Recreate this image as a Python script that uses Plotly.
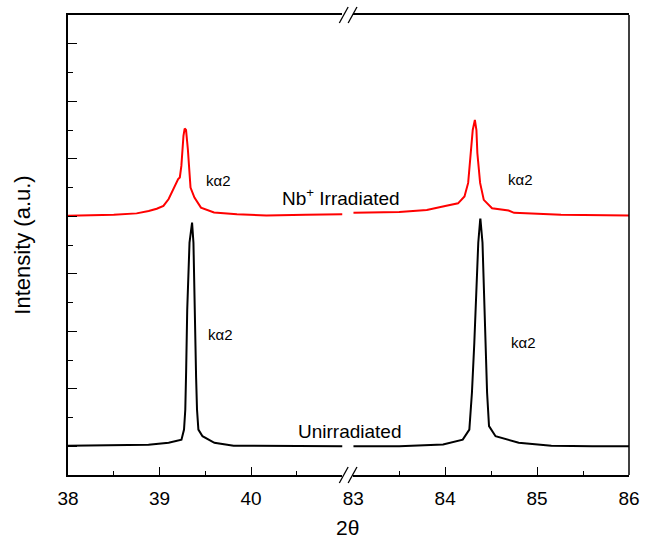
import plotly.graph_objects as go

# ---- data ----
black_left_x = [38.0, 38.5, 38.88, 39.10, 39.24, 39.268, 39.282, 39.291, 39.303, 39.328, 39.35, 39.356,
                39.371, 39.382, 39.40, 39.41, 39.425, 39.47, 39.60, 39.81, 40.5, 41.0]
black_left_y = [0.02, 0.03, 0.05, 0.12, 0.23, 0.58, 1.28, 2.6, 4.75, 7.08, 7.78, 7.78,
                7.08, 4.75, 2.4, 1.28, 0.58, 0.35, 0.12, 0.02, 0.0, 0.0]

black_right_x = [83.0, 83.5, 83.977, 84.191, 84.263, 84.291, 84.317, 84.36, 84.381, 84.384,
                 84.406, 84.435, 84.456, 84.477, 84.548, 84.80, 85.155, 85.6, 86.0]
black_right_y = [0.0, 0.0, 0.06, 0.23, 0.58, 1.86, 3.6, 7.08, 7.89, 7.89,
                 7.08, 3.6, 1.86, 0.7, 0.35, 0.12, 0.02, 0.0, 0.0]

red_left_x = [38.0, 38.5, 38.75, 38.882, 38.97, 39.043, 39.10, 39.15, 39.204, 39.222, 39.239, 39.262, 39.275,
              39.29, 39.30, 39.31, 39.339, 39.382, 39.453, 39.596, 39.846, 40.168, 40.6, 41.0]
red_left_y = [8.02, 8.05, 8.1, 8.18, 8.26, 8.36, 8.6, 8.94, 9.29, 9.35, 9.75, 10.8, 11.05,
              11.0, 10.7, 10.33, 9.0, 8.65, 8.3, 8.13, 8.07, 8.03, 8.05, 8.07]

red_right_x = [83.0, 83.5, 83.8, 83.9, 84.0, 84.14, 84.21, 84.25, 84.28, 84.30, 84.323, 84.34,
               84.35, 84.38, 84.42, 84.51, 84.69, 84.75, 85.26, 86.0]
red_right_y = [8.12, 8.15, 8.22, 8.3, 8.36, 8.45, 8.69, 9.16, 10.3, 11.0, 11.35, 11.0,
               10.2, 9.16, 8.57, 8.28, 8.2, 8.12, 8.05, 8.03]

left_ticks = [38, 39, 40]
right_ticks = [83, 84, 85, 86]
left_minor = [38.5, 39.5, 40.5]
right_minor = [83.5, 84.5, 85.5]
y_major = [0, 2, 4, 6, 8, 10, 12, 14]
y_minor = [1, 3, 5, 7, 9, 11, 13]

FONT = "Liberation Sans, Arial, sans-serif"

fig = go.Figure()
fig.add_trace(go.Scatter(x=black_left_x, y=black_left_y, mode="lines",
                         line=dict(color="black", width=2), xaxis="x", yaxis="y"))
fig.add_trace(go.Scatter(x=black_right_x, y=black_right_y, mode="lines",
                         line=dict(color="black", width=2), xaxis="x2", yaxis="y"))
fig.add_trace(go.Scatter(x=red_left_x, y=red_left_y, mode="lines",
                         line=dict(color="#ff0000", width=2), xaxis="x", yaxis="y"))
fig.add_trace(go.Scatter(x=red_right_x, y=red_right_y, mode="lines",
                         line=dict(color="#ff0000", width=2), xaxis="x2", yaxis="y"))

axis_common = dict(showgrid=False, zeroline=False, showline=True, linecolor="black", linewidth=1.5,
                   mirror=True, ticks="inside", ticklen=8, tickwidth=1.2, tickcolor="black",
                   tickfont=dict(size=19, color="black", family=FONT), ticklabelstandoff=5)

fig.update_layout(
    width=651, height=541, autosize=False,
    margin=dict(l=68, r=11, t=15, b=66),
    paper_bgcolor="white", plot_bgcolor="white",
    showlegend=False,
    font=dict(family=FONT, color="black"),
    xaxis=dict(domain=[0, 0.4893], range=[38, 41], tickvals=left_ticks, anchor="y",
               minor=dict(tickvals=left_minor, ticklen=4, ticks="inside", tickcolor="black", tickwidth=1.2),
               **axis_common),
    xaxis2=dict(domain=[0.5085, 1], range=[83, 86], tickvals=right_ticks, anchor="y",
                minor=dict(tickvals=right_minor, ticklen=4, ticks="inside", tickcolor="black", tickwidth=1.2),
                **axis_common),
    yaxis=dict(range=[-1, 15], tickvals=y_major, showticklabels=False, showgrid=False, zeroline=False,
               showline=True, linecolor="black", linewidth=1.5, mirror=False, anchor="x",
               ticks="inside", ticklen=9, tickwidth=1.2, tickcolor="black",
               minor=dict(tickvals=y_minor, ticklen=5, ticks="inside", tickcolor="black", tickwidth=1.2),
               title=dict(text="Intensity (a.u.)", font=dict(size=22, family=FONT, color="black"),
                          standoff=30)),
)

W = 572.3
H = 459.5
def px(x):
    return (x - 67.7) / W
def py(y):
    return (474.5 - y) / H

shapes = [dict(type="line", xref="paper", yref="paper", x0=1, x1=1, y0=0, y1=1,
               line=dict(color="black", width=1.5))]
for yc in (15.0, 474.5):
    shapes.append(dict(type="line", xref="paper", yref="paper", x0=px(349), x1=px(358), y0=py(yc), y1=py(yc),
                       line=dict(color="white", width=3)))
    for xc in (349.0, 358.0):
        shapes.append(dict(type="line", xref="paper", yref="paper",
                           x0=px(xc - 4.5), y0=py(yc + 8), x1=px(xc + 4.5), y1=py(yc - 8),
                           line=dict(color="black", width=1.3)))
fig.update_layout(shapes=shapes)

ann_font = dict(size=15, family=FONT, color="black")
annotations = [
    dict(x=39.65, y=9.23, xref="x", yref="y", text="kα2", showarrow=False, font=ann_font),
    dict(x=84.82, y=9.29, xref="x2", yref="y", text="kα2", showarrow=False, font=ann_font),
    dict(x=39.67, y=3.89, xref="x", yref="y", text="kα2", showarrow=False, font=ann_font),
    dict(x=84.85, y=3.6, xref="x2", yref="y", text="kα2", showarrow=False, font=ann_font),
    dict(x=px(346), y=py(197), xref="paper", yref="paper", text="Nb<sup>+</sup> Irradiated",
         showarrow=False, font=dict(size=19, family=FONT, color="black"), yanchor="middle"),
    dict(x=px(355), y=py(431), xref="paper", yref="paper", text="Unirradiated",
         showarrow=False, font=dict(size=19, family=FONT, color="black"), yanchor="middle"),
    dict(x=px(353), y=py(527), xref="paper", yref="paper", text="2θ",
         showarrow=False, font=dict(size=21, family=FONT, color="black"), yanchor="middle"),
]
fig.update_layout(annotations=annotations)

fig.write_html(
    "out.html",
    config={"displayModeBar": False, "responsive": False},
    post_script=("document.body.style.margin='0px';"
                 "document.body.style.overflow='hidden';"
                 "document.documentElement.style.overflow='hidden';"),
)
